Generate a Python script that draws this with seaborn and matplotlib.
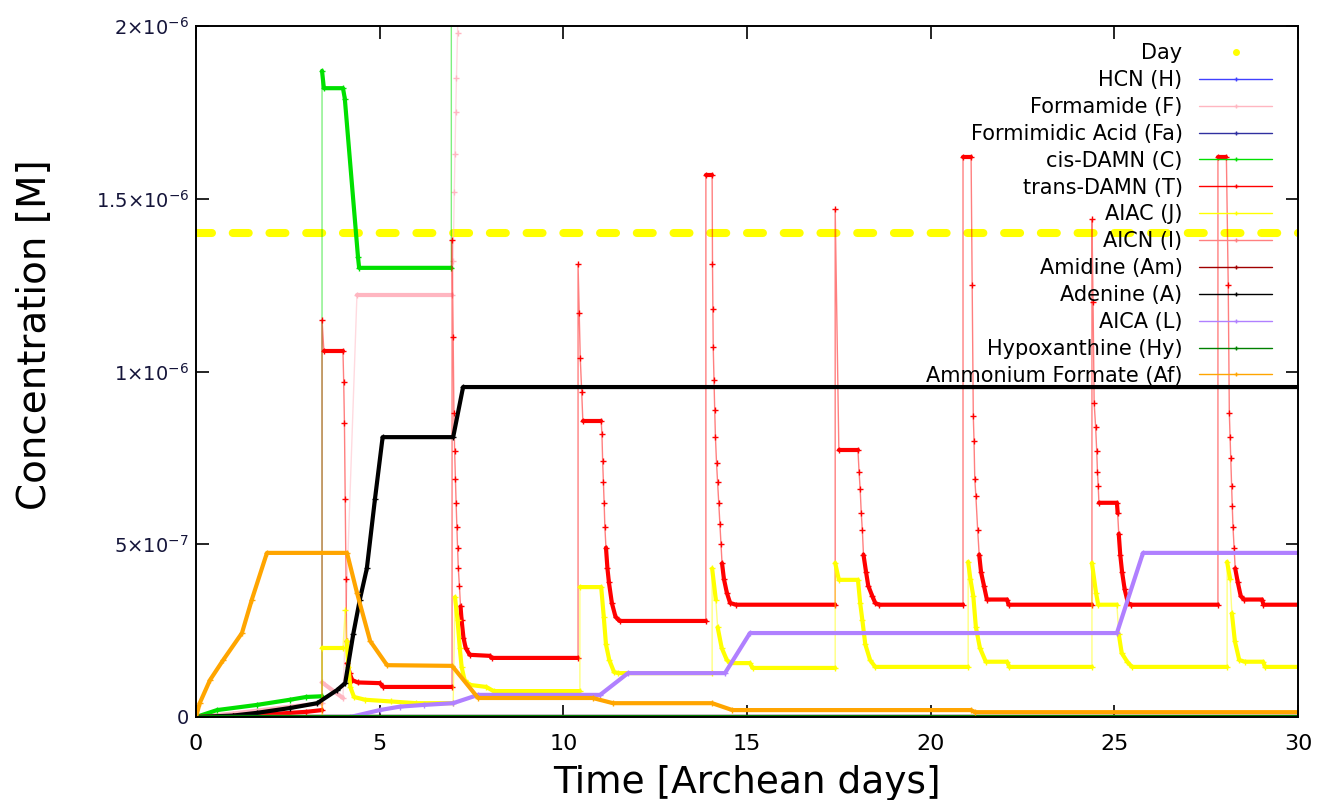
import numpy as np
import pandas as pd
import matplotlib
matplotlib.use("Agg")
import matplotlib.pyplot as plt
from matplotlib.lines import Line2D
from matplotlib import font_manager
import seaborn as sns

# Concentrations, in units of 1e-6 M
SCALE = 1e-6

day_level = 1.4

zero_t = [0, 30]
zero_c = [0, 0]

formamide_t = [0, 1.0, 2.56, 3.43, 3.43, 4.0, 4.38, 6.97, 7.0, 7.03, 7.05, 7.07, 7.09, 7.12, 7.2, 30]
formamide_c = [0, 0.01, 0.03, 0.04, 0.10, 0.055, 1.22, 1.22, 1.32, 1.52, 1.63, 1.75, 1.85, 1.98, 2.6, 2.6]

cis_t = [0, 0.57, 1.66, 2.56, 3.0, 3.43, 3.43, 3.48, 4.0, 4.05, 4.41, 4.44, 6.95, 6.95, 30]
cis_c = [0, 0.02, 0.035, 0.05, 0.058, 0.06, 1.87, 1.82, 1.82, 1.79, 1.33, 1.30, 1.30, 2.6, 2.6]

trans_t = [0, 1.0, 2.0, 3.0, 3.43, 3.43, 3.48, 4.0, 4.02, 4.04, 4.06, 4.08, 4.10, 4.12, 4.18, 4.25, 4.4, 5.0, 5.1, 6.97,
           6.97, 7.0, 7.02, 7.04, 7.06, 7.08, 7.10, 7.12, 7.14, 7.17, 7.20, 7.23, 7.28, 7.34, 7.45, 8.0, 8.05, 10.40,
           10.40, 10.43, 10.46, 10.50, 10.53, 11.03, 11.05, 11.07, 11.09, 11.11, 11.13, 11.16, 11.2, 11.24, 11.32, 11.42, 11.53, 13.88,
           13.88, 14.05, 14.06, 14.07, 14.08, 14.1, 14.12, 14.14, 14.17, 14.2, 14.23, 14.26, 14.29, 14.32, 14.37, 14.45, 14.54, 14.7, 17.40,
           17.40, 17.50, 18.02, 18.05, 18.08, 18.11, 18.14, 18.17, 18.24, 18.3, 18.41, 18.49, 18.6, 20.88,
           20.88, 21.1, 21.13, 21.16, 21.18, 21.2, 21.23, 21.28, 21.32, 21.37, 21.45, 21.53, 22.08, 22.12, 24.39,
           24.39, 24.42, 24.45, 24.49, 24.52, 24.54, 24.56, 24.58, 25.07, 25.09, 25.12, 25.16, 25.21, 25.28, 25.37, 25.45, 27.82,
           27.82, 28.05, 28.1, 28.13, 28.15, 28.17, 28.19, 28.21, 28.23, 28.26, 28.29, 28.36, 28.44, 28.53, 29.02, 29.06, 30]
trans_c = [0, 0.003, 0.008, 0.015, 0.02, 1.15, 1.06, 1.06, 0.97, 0.85, 0.63, 0.40, 0.22, 0.156, 0.127, 0.107, 0.10, 0.098, 0.087, 0.087,
           1.38, 1.1, 0.88, 0.77, 0.69, 0.62, 0.55, 0.49, 0.43, 0.38, 0.32, 0.28, 0.23, 0.20, 0.18, 0.177, 0.171, 0.171,
           1.31, 1.17, 1.04, 0.94, 0.857, 0.857, 0.82, 0.74, 0.68, 0.62, 0.55, 0.49, 0.43, 0.39, 0.33, 0.29, 0.278, 0.278,
           1.57, 1.57, 1.31, 1.18, 1.07, 0.975, 0.89, 0.81, 0.735, 0.68, 0.62, 0.56, 0.50, 0.445, 0.40, 0.36, 0.33, 0.325, 0.325,
           1.47, 0.773, 0.773, 0.71, 0.66, 0.59, 0.54, 0.47, 0.42, 0.38, 0.35, 0.33, 0.325, 0.325,
           1.62, 1.62, 1.25, 0.87, 0.80, 0.69, 0.64, 0.54, 0.47, 0.42, 0.38, 0.34, 0.34, 0.325, 0.325,
           1.44, 1.2, 0.91, 0.84, 0.77, 0.71, 0.67, 0.62, 0.62, 0.59, 0.53, 0.47, 0.42, 0.37, 0.33, 0.325, 0.325,
           1.62, 1.62, 1.25, 0.88, 0.81, 0.75, 0.67, 0.61, 0.55, 0.49, 0.43, 0.39, 0.35, 0.34, 0.34, 0.325, 0.325]

aiac_t = [0, 3.43, 3.43, 4.0, 4.06, 4.1, 4.15, 4.2, 4.3, 4.6, 5.3, 6.0, 7.0,
          7.05, 7.12, 7.18, 7.23, 7.31, 7.45, 7.9, 8.1, 10.45,
          10.45, 11.03, 11.1, 11.16, 11.25, 11.38, 11.5, 14.05,
          14.05, 14.15, 14.2, 14.31, 14.45, 14.55, 15.08, 15.15, 17.40,
          17.40, 17.5, 18.02, 18.08, 18.14, 18.22, 18.35, 18.49, 21.02,
          21.02, 21.08, 21.16, 21.23, 21.34, 21.5, 22.08, 22.14, 24.39,
          24.39, 24.5, 24.56, 25.07, 25.12, 25.2, 25.35, 25.48, 28.07,
          28.07, 28.15, 28.2, 28.28, 28.4, 28.55, 29.05, 29.1, 30]
aiac_c = [0, 0.0, 0.20, 0.20, 0.31, 0.22, 0.145, 0.087, 0.058, 0.05, 0.045, 0.04, 0.04,
          0.347, 0.28, 0.20, 0.145, 0.107, 0.093, 0.087, 0.075, 0.075,
          0.376, 0.376, 0.29, 0.21, 0.165, 0.13, 0.127, 0.127,
          0.43, 0.34, 0.26, 0.20, 0.165, 0.156, 0.156, 0.142, 0.142,
          0.446, 0.397, 0.397, 0.33, 0.28, 0.21, 0.165, 0.145, 0.145,
          0.449, 0.40, 0.35, 0.26, 0.20, 0.16, 0.16, 0.145, 0.145,
          0.446, 0.36, 0.325, 0.325, 0.24, 0.185, 0.16, 0.145, 0.145,
          0.449, 0.40, 0.30, 0.22, 0.165, 0.16, 0.16, 0.145, 0.145]

adenine_t = [0, 1.0, 1.66, 2.56, 3.3, 3.84, 4.06, 4.28, 4.46, 4.65, 4.87, 5.08, 7.0, 7.27, 30]
adenine_c = [0, 0.004, 0.012, 0.026, 0.04, 0.078, 0.098, 0.24, 0.34, 0.43, 0.63, 0.81, 0.81, 0.955, 0.955]

aica_t = [0, 4.2, 5.0, 5.55, 6.2, 7.0, 7.68, 11.0, 11.76, 14.4, 15.08, 25.07, 25.78, 30]
aica_c = [0, 0.0, 0.02, 0.03, 0.035, 0.04, 0.064, 0.064, 0.127, 0.127, 0.243, 0.243, 0.475, 0.475]

formate_t = [0, 0.1, 0.38, 0.74, 1.25, 1.52, 1.93, 4.11, 4.38, 4.74, 5.2, 6.97, 7.68, 10.8, 11.35, 14.05, 14.6, 21.1, 21.2, 30]
formate_c = [0, 0.04, 0.107, 0.165, 0.243, 0.34, 0.475, 0.475, 0.36, 0.22, 0.15, 0.148, 0.055, 0.055, 0.04, 0.04, 0.02, 0.02, 0.014, 0.014]

species = [
    ("HCN (H)", "#4040ff", zero_t, zero_c),
    ("Formamide (F)", "#ffb6c1", formamide_t, formamide_c),
    ("Formimidic Acid (Fa)", "#3030a0", zero_t, zero_c),
    ("cis-DAMN (C)", "#00e000", cis_t, cis_c),
    ("trans-DAMN (T)", "#ff0000", trans_t, trans_c),
    ("AIAC (J)", "#ffff00", aiac_t, aiac_c),
    ("AICN (I)", "#ff8080", zero_t, zero_c),
    ("Amidine (Am)", "#a00000", zero_t, zero_c),
    ("Adenine (A)", "#000000", adenine_t, adenine_c),
    ("AICA (L)", "#b080ff", aica_t, aica_c),
    ("Hypoxanthine (Hy)", "#008000", zero_t, zero_c),
    ("Ammonium Formate (Af)", "#ffa500", formate_t, formate_c),
]

yticks = [0, 0.5, 1.0, 1.5, 2.0]
ytick_labels = ["0", r"$5{\times}10^{-7}$", r"$1{\times}10^{-6}$", r"$1.5{\times}10^{-6}$", r"$2{\times}10^{-6}$"]
xticks = [0, 5, 10, 15, 20, 25, 30]

sns.set_style("ticks")
plt.rcParams["font.family"] = ["DejaVu Sans"]
plt.rcParams.update({"text.color": "black", "axes.labelcolor": "black",
                     "xtick.color": "black", "ytick.color": "black"})

try:
    font_manager.findfont("Liberation Sans Narrow", fallback_to_default=False)
    narrow = "Liberation Sans Narrow"
except ValueError:
    narrow = "DejaVu Sans"

fig = plt.figure(figsize=(13.21, 8), dpi=100)
ax = fig.add_axes([0.1484, 0.10375, 0.8342, 0.86375])
ax_w = 0.8342 * 1321
ax_h = 0.86375 * 800


def thick_runs(t, c, max_slope=15):
    # gnuplot points pile up where the curve moves slowly -> draw those parts thick
    rows = []
    run = 0
    prev_thick = False
    for i in range(len(t) - 1):
        dx = (t[i + 1] - t[i]) * ax_w / 30
        dy = abs(c[i + 1] - c[i]) * ax_h / 2.0
        thick = dx > 0 and dy / dx <= max_slope
        if thick:
            if not prev_thick:
                run += 1
                rows.append((run, t[i], c[i]))
            rows.append((run, t[i + 1], c[i + 1]))
        prev_thick = thick
    return pd.DataFrame(rows, columns=["run", "t", "c"])


# Day marker (dashed yellow band)
sns.lineplot(x=[0, 30], y=[day_level * SCALE] * 2, color="#ffff00", lw=5.8, ax=ax)
day_line = ax.lines[-1]
period_pt = ax_w / 30 * 72 / 100
day_line.set_dash_capstyle("round")
day_line.set_dashes([0.435 * period_pt / 5.8, 0.565 * period_pt / 5.8])

for name, col, t, c in species:
    ts = np.array(t, float)
    cs = np.array(c, float) * SCALE
    sns.lineplot(x=ts, y=cs, color=col, lw=1.0, alpha=0.5, sort=False, estimator=None, ax=ax)
    runs = thick_runs(ts, np.array(c, float))
    if len(runs):
        runs["c"] = runs["c"] * SCALE
        sns.lineplot(data=runs, x="t", y="c", units="run", estimator=None, sort=False,
                     color=col, lw=3.0, solid_capstyle="round", ax=ax)
    sns.lineplot(x=ts, y=cs, color=col, lw=0, marker="+", markersize=5,
                 markeredgecolor=col, markeredgewidth=1.0, sort=False, estimator=None, ax=ax)

ax.set_xlim(0, 30)
ax.set_ylim(0, 2e-6)
ax.set_xticks(xticks)
ax.set_xticklabels([str(x) for x in xticks], family=[narrow, "DejaVu Sans"], fontsize=16)
ax.set_yticks([v * SCALE for v in yticks])
ax.set_yticklabels(ytick_labels, fontsize=14, color="#15153a")
ax.tick_params(direction="in", length=9, width=1.2, top=True, right=True)
ax.tick_params(axis="x", pad=12)
ax.tick_params(axis="y", pad=5)
for s in ax.spines.values():
    s.set_linewidth(1.4)
    s.set_color("black")

ax.set_xlabel("Time [Archean days]", fontsize=27, va="top")
ax.xaxis.set_label_coords(0.5, -0.069)
ax.set_ylabel("Concentration [M]", fontsize=28, family=[narrow, "DejaVu Sans"], va="center")
ax.yaxis.set_label_coords(-0.146, 0.553)

handles = [Line2D([], [], color="#ffff00", lw=0, marker="o", markersize=4)]
labels = ["Day"]
for name, col, t, c in species:
    handles.append(Line2D([], [], color=col, lw=1.0, marker="+", markersize=3))
    labels.append(name)
ax.legend(handles, labels, loc="upper right", bbox_to_anchor=(0.963, 0.946), bbox_transform=fig.transFigure,
          frameon=False, markerfirst=False, fontsize=15, handlelength=3.5, handletextpad=0.8,
          labelspacing=0.33, borderpad=0, borderaxespad=0)

fig.savefig("out.png", dpi=100)
